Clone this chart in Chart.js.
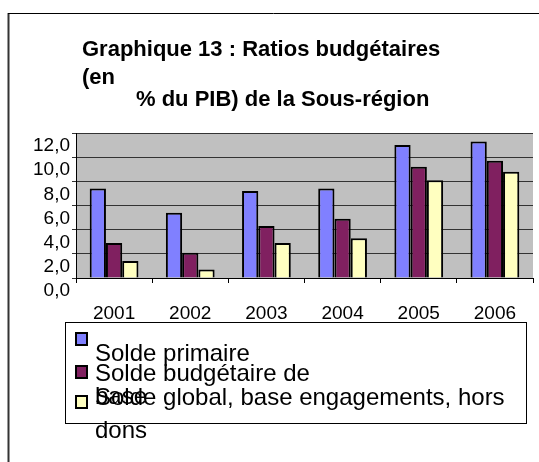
<!DOCTYPE html>
<html>
<head>
<meta charset="utf-8">
<script src="https://cdn.jsdelivr.net/npm/chart.js@4/dist/chart.umd.min.js"></script>
<style>
html,body{margin:0;padding:0;background:#fff;}
#wrap{position:relative;width:539px;height:462px;}
</style>
</head>
<body>
<div id="wrap"><canvas id="c" width="539" height="462"></canvas></div>
<script>
const categories = ['2001','2002','2003','2004','2005','2006'];
const soldePrimaire = [7.4, 5.4, 7.2, 7.4, 11.0, 11.3];
const soldeBudgetaireBase = [2.9, 2.1, 4.3, 4.9, 9.2, 9.7];
const soldeGlobalHorsDons = [1.4, 0.7, 2.9, 3.3, 8.1, 8.8];
const seriesNames = ['Solde primaire', 'Solde budgétaire de base', 'Solde global, base engagements, hors dons'];
const legendLines = [['Solde primaire'], ['Solde budgétaire de', 'base'], ['Solde global, base engagements, hors', 'dons']];
const titleLines = ['Graphique 13 : Ratios budgétaires', '(en', '% du PIB) de la Sous-région'];
const yTicks = [0, 2, 4, 6, 8, 10, 12];

const FONT = "'Liberation Sans', Arial, sans-serif";
const colors = ['#8080FF', '#802060', '#FFFFC0'];

const decor = {
  id: 'decor',
  beforeDraw(chart) {
    const ctx = chart.ctx;
    ctx.save();
    ctx.fillStyle = '#fff';
    ctx.fillRect(0, 0, chart.width, chart.height);
    ctx.strokeStyle = '#333';
    ctx.lineWidth = 2;
    ctx.beginPath(); ctx.moveTo(8.5, 13); ctx.lineTo(8.5, 462); ctx.stroke();
    ctx.strokeStyle = '#000';
    ctx.lineWidth = 1;
    ctx.beginPath(); ctx.moveTo(8, 13.5); ctx.lineTo(539, 13.5); ctx.stroke();
    const a = chart.chartArea;
    ctx.fillStyle = '#C0C0C0';
    ctx.fillRect(a.left, a.top, a.right - a.left, a.bottom - a.top);
    ctx.restore();
  },
  afterDraw(chart) {
    const ctx = chart.ctx;
    ctx.save();
    ctx.fillStyle = '#000';
    ctx.font = "bold 22px " + FONT;
    ctx.textBaseline = 'alphabetic';
    ctx.textAlign = 'left';
    ctx.fillText(titleLines[0], 82, 56);
    ctx.fillText(titleLines[1], 82, 84);
    ctx.fillText(titleLines[2], 136, 106);
    ctx.fillStyle = '#fff';
    ctx.fillRect(65.5, 322.5, 461, 101);
    ctx.strokeStyle = '#000';
    ctx.lineWidth = 1;
    ctx.strokeRect(65.5, 322.5, 461, 101);
    const markerTops = [333, 366, 396];
    const lineBaselines = [[361], [381, 404], [405, 438]];
    ctx.font = "24px " + FONT;
    for (let i = 0; i < 3; i++) {
      ctx.fillStyle = colors[i];
      ctx.fillRect(76, markerTops[i], 11, 12);
      ctx.lineWidth = 2;
      ctx.strokeStyle = '#000';
      ctx.strokeRect(76, markerTops[i], 11, 12);
      ctx.fillStyle = '#000';
      legendLines[i].forEach((t, j) => ctx.fillText(t, 95, lineBaselines[i][j]));
    }
    ctx.restore();
  }
};

new Chart(document.getElementById('c'), {
  type: 'bar',
  data: {
    labels: categories,
    datasets: [
      {label: seriesNames[0], data: soldePrimaire},
      {label: seriesNames[1], data: soldeBudgetaireBase},
      {label: seriesNames[2], data: soldeGlobalHorsDons}
    ].map((d, i) => Object.assign(d, {
      backgroundColor: colors[i], borderColor: '#000', borderWidth: 2,
      categoryPercentage: 0.64, barPercentage: 1.0
    }))
  },
  options: {
    responsive: false,
    animation: false,
    devicePixelRatio: 1,
    layout: {padding: {left: 0, top: 133, right: 6, bottom: 134}},
    plugins: {legend: {display: false}, title: {display: false}, tooltip: {enabled: false}},
    scales: {
      x: {
        afterFit: s => { s.height = 50; },
        grid: {offset: true, drawOnChartArea: false, drawTicks: true, tickLength: 5, color: '#000'},
        border: {color: '#000', width: 1},
        ticks: {color: '#000', font: {family: FONT, size: 19}, padding: 19, maxRotation: 0}
      },
      y: {
        min: 0, max: 12,
        afterFit: s => { s.width = 76; },
        afterBuildTicks: s => { s.ticks = yTicks.map(v => ({value: v})); },
        grid: {color: '#333', lineWidth: 1, drawTicks: true, tickLength: 4},
        border: {color: '#000', width: 1},
        ticks: {color: '#000', font: {family: FONT, size: 19}, padding: 2, labelOffset: 13, autoSkip: false,
          callback: v => Number(v).toFixed(1).replace('.', ',')}
      }
    }
  },
  plugins: [decor]
});
</script>
</body>
</html>
